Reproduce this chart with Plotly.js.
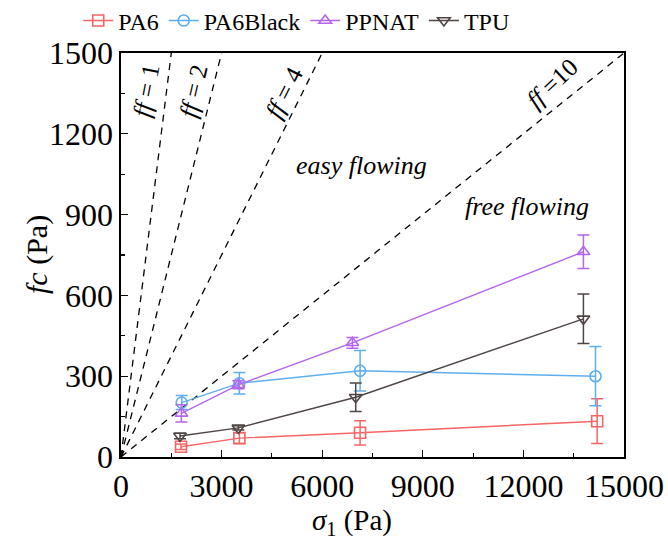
<!DOCTYPE html>
<html>
<head>
<meta charset="utf-8">
<script src="https://cdn.plot.ly/plotly-3.0.1.min.js"></script>
<style>html,body{margin:0;padding:0;background:#fff;}#chart{width:668px;height:542px;}</style>
</head>
<body>
<div id="chart"></div>
<script>
// Data
const seriesNames = ["PA6", "PA6Black", "PPNAT", "TPU"];
const pa6X = [1790, 3530, 7130, 14200];
const pa6Y = [38, 70, 90, 133];
const pa6Err = [10, 20, 45, 83];
const pa6BlackX = [1810, 3530, 7130, 14150];
const pa6BlackY = [202, 274, 320, 300];
const pa6BlackErr = [26, 40, 75, 110];
const ppnatX = [1800, 3500, 6900, 13790];
const ppnatY = [162, 268, 424, 762];
const ppnatErr = [32, 15, 20, 62];
const tpuX = [1760, 3500, 7000, 13790];
const tpuY = [78, 108, 222, 513];
const tpuErr = [10, 8, 53, 92];
// flow-function reference lines fc = sigma1 / ff
const ffValues = [1, 2, 4, 10];
const ffLabels = ["<i>ff</i> = 1", "<i>ff</i> = 2", "<i>ff</i> = 4", "<i>ff</i> =10"];
const regionLabels = ["easy flowing", "free flowing"];
const xTicks = [0, 3000, 6000, 9000, 12000, 15000];
const yTicks = [0, 300, 600, 900, 1200, 1500];
const xTitle = "<i>σ</i><sub>1</sub> (Pa)";
const yTitle = "<i>fc</i> (Pa)";

const colors = ["#F56565", "#5EAEEE", "#B466EE", "#4F4545"];
const symbols = ["square-open", "circle-open", "triangle-up-open", "triangle-down-open"];
const xs = [pa6X, pa6BlackX, ppnatX, tpuX];
const ys = [pa6Y, pa6BlackY, ppnatY, tpuY];
const es = [pa6Err, pa6BlackErr, ppnatErr, tpuErr];

const traces = [];
ffValues.forEach(ff => {
  const xEnd = Math.min(15000, 1500 * ff);
  traces.push({
    x: [0, xEnd], y: [0, xEnd / ff], mode: "lines", showlegend: false, hoverinfo: "skip",
    line: {color: "#000", width: 1.3, dash: "7px,6px"}
  });
});
seriesNames.forEach((name, i) => {
  traces.push({
    x: xs[i], y: ys[i], name: name, mode: "lines+markers", type: "scatter",
    line: {color: colors[i], width: 1.4},
    marker: {symbol: symbols[i], size: 11, color: colors[i], line: {width: 1.6, color: colors[i]}},
    error_y: {type: "data", array: es[i], visible: true, color: colors[i], thickness: 1.5, width: 6}
  });
});

const FAM = "Liberation Serif";
const f = (s) => ({family: FAM, size: s, color: "#000"});
const annPos = [
  {x: 760, y: 1360, a: -79},
  {x: 2170, y: 1360, a: -77},
  {x: 4860, y: 1355, a: -63},
  {x: 12855, y: 1385, a: -43}
];
const annotations = ffLabels.map((t, i) => ({
  text: t, x: annPos[i].x, y: annPos[i].y, xref: "x", yref: "y", showarrow: false,
  textangle: annPos[i].a, font: f(25)
}));
annotations.push({text: "<i>" + regionLabels[0] + "</i>", x: 7186, y: 1082, xref: "x", yref: "y",
  showarrow: false, font: f(26)});
annotations.push({text: "<i>" + regionLabels[1] + "</i>", x: 12107, y: 930, xref: "x", yref: "y",
  showarrow: false, font: f(26)});
// axis titles placed as annotations (paper coordinates)
annotations.push({text: xTitle, xref: "paper", yref: "paper", x: (352 - 121) / 503, y: -(522 - 457) / 404,
  xanchor: "center", yanchor: "middle", showarrow: false, font: f(29)});
annotations.push({text: yTitle, xref: "paper", yref: "paper", x: -(121 - 37) / 503, y: 0.5,
  xanchor: "center", yanchor: "middle", showarrow: false, textangle: -90, font: f(30)});

const layout = {
  width: 668, height: 542,
  margin: {l: 121, r: 44, t: 53, b: 85, autoexpand: false},
  paper_bgcolor: "#fff", plot_bgcolor: "#fff",
  font: f(26),
  showlegend: true,
  legend: {orientation: "h", x: -0.085, y: 1.135, xanchor: "left", yanchor: "top",
    font: f(24), itemwidth: 30, tracegroupgap: 0, bgcolor: "rgba(0,0,0,0)"},
  xaxis: {
    range: [0, 15000], tickvals: xTicks, ticktext: xTicks.map(String),
    ticks: "inside", ticklen: 7, tickwidth: 1.3, tickcolor: "#000",
    minor: {dtick: 1500, ticks: "inside", ticklen: 4, tickwidth: 1.2, tickcolor: "#000"},
    showline: true, linecolor: "#000", linewidth: 1.6, mirror: true,
    showgrid: false, zeroline: false, tickfont: f(32), automargin: false
  },
  yaxis: {
    range: [0, 1500], tickvals: yTicks, ticktext: yTicks.map(String),
    ticks: "inside", ticklen: 7, tickwidth: 1.3, tickcolor: "#000",
    minor: {dtick: 150, ticks: "inside", ticklen: 4, tickwidth: 1.2, tickcolor: "#000"},
    showline: true, linecolor: "#000", linewidth: 1.6, mirror: true,
    showgrid: false, zeroline: false, tickfont: f(32), automargin: false
  },
  annotations: annotations
};

Plotly.newPlot("chart", traces, layout, {displayModeBar: false, staticPlot: true});
</script>
</body>
</html>
